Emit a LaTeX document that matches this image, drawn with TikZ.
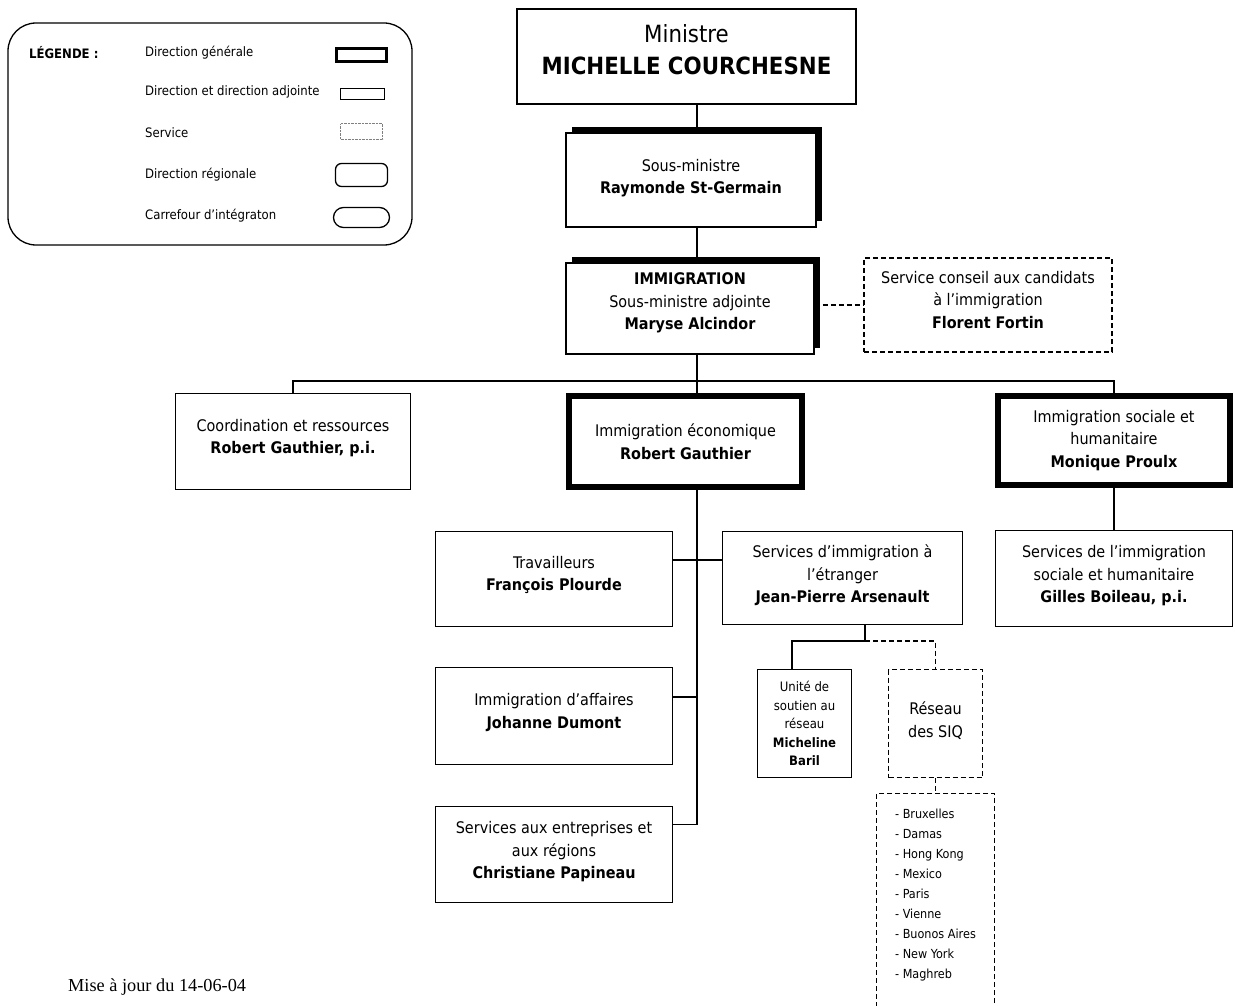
\documentclass[tikz,border=0pt]{standalone}
\usepackage{fontspec}
\setmainfont{DejaVu Sans Condensed}
\newfontfamily\timesfont{Liberation Serif}
\usetikzlibrary{shadows}

\tikzset{
  orgbox/.style={draw, fill=white, line width=1.3pt, align=center, inner sep=0pt, font=\fontsize{16}{22.5}\selectfont},
  dgbox/.style={orgbox, line width=6pt},
  servbox/.style={orgbox, dash pattern=on 5pt off 3pt},
  shadowbox/.style={orgbox, line width=1.8pt, drop shadow={shadow xshift=6pt, shadow yshift=6pt, fill=black, opacity=1}},
  legtext/.style={anchor=west, inner sep=0pt, font=\fontsize{13}{15}\selectfont},
  link/.style={line width=1.3pt},
  dlink/.style={line width=1.3pt, dash pattern=on 5pt off 3pt},
}

\begin{document}
\begin{tikzpicture}[x=1pt,y=-1pt]
	\useasboundingbox (0,0) rectangle (1235,1006);
	% legende
	\draw[line width=1.3pt, rounded corners=28pt] (8,23) rectangle (412,245);
	\node[legtext, font=\fontsize{13}{15}\selectfont\bfseries] (legtitle) at (29,53) {LÉGENDE :};
	\node[legtext] (leggen) at (145,53) {Direction générale};
	\node[legtext] (legdir) at (145,92) {Direction et direction adjointe};
	\node[legtext] (legserv) at (145,133) {Service};
	\node[legtext] (legreg) at (145,175) {Direction régionale};
	\node[legtext] (legcarr) at (145,216) {Carrefour d’intégraton};
	\node[draw, line width=3pt, minimum width=50pt, minimum height=13pt, inner sep=0pt] (symgen) at (361.5,55) {};
	\node[draw, line width=1.3pt, minimum width=44pt, minimum height=11pt, inner sep=0pt] (symdir) at (362.5,94) {};
	\node[draw, gray, densely dotted, minimum width=42pt, minimum height=16pt, inner sep=0pt] (symserv) at (361.5,131.5) {};
	\node[draw, line width=1.3pt, rounded corners=6pt, minimum width=52pt, minimum height=23pt, inner sep=0pt] (symreg) at (361.5,175) {};
	\node[draw, line width=1.3pt, rounded corners=10pt, minimum width=56pt, minimum height=20pt, inner sep=0pt] (symcarr) at (361.5,217.5) {};

	\node[orgbox, line width=1.8pt, minimum width=339pt, minimum height=95pt, font=\fontsize{23.7}{32}\selectfont] (ministre) at (686.5,56.5) {Ministre\\\textbf{MICHELLE COURCHESNE}\\[-18pt]};
	\node[shadowbox, minimum width=250pt, minimum height=94pt] (sm) at (691,180) {Sous-ministre\\\textbf{Raymonde St-Germain}\\[-15.5pt]};
	\node[shadowbox, minimum width=248pt, minimum height=91pt] (imm) at (690,308.5) {\textbf{IMMIGRATION}\\Sous-ministre adjointe\\\textbf{Maryse Alcindor}\\[-8pt]};
	\node[servbox, minimum width=248pt, minimum height=94pt] (scc) at (988,305) {Service conseil aux candidats\\à l’immigration\\\textbf{Florent Fortin}\\[-12pt]};

	\node[orgbox, minimum width=235pt, minimum height=96pt] (coord) at (293,441.5) {Coordination et ressources\\\textbf{Robert Gauthier, p.i.}\\[-12pt]};
	\node[dgbox, minimum width=233pt, minimum height=91pt] (eco) at (685.5,441.5) {Immigration économique\\\textbf{Robert Gauthier}};
	\node[dgbox, minimum width=232pt, minimum height=89pt] (soc) at (1114,440.5) {Immigration sociale et\\humanitaire\\\textbf{Monique Proulx}};
	\node[orgbox, minimum width=237pt, minimum height=96pt] (svsoc) at (1114,578.5) {Services de l’immigration\\sociale et humanitaire\\\textbf{Gilles Boileau, p.i.}\\[-14pt]};

	\node[orgbox, minimum width=237pt, minimum height=95pt] (trav) at (554,579) {Travailleurs\\\textbf{François Plourde}\\[-11pt]};
	\node[orgbox, minimum width=240pt, minimum height=93pt] (etr) at (842.5,578) {Services d’immigration à\\l’étranger\\\textbf{Jean-Pierre Arsenault}\\[-14pt]};
	\node[orgbox, minimum width=237pt, minimum height=97pt] (aff) at (554,716) {Immigration d’affaires\\\textbf{Johanne Dumont}\\[-12pt]};
	\node[orgbox, minimum width=237pt, minimum height=96pt] (ent) at (554,854.5) {Services aux entreprises et\\aux régions\\\textbf{Christiane Papineau}\\[-14pt]};

	\node[orgbox, line width=1.8pt, minimum width=94pt, minimum height=108pt, font=\fontsize{13}{18.5}\selectfont] (unite) at (804.5,723.5) {Unité de\\soutien au\\réseau\\\textbf{Micheline}\\\textbf{Baril}};
	\node[servbox, minimum width=94pt, minimum height=108pt] (reseau) at (935.5,723.5) {Réseau\\des SIQ\\[-15pt]};
	\node[servbox, anchor=north, align=left, minimum width=118pt, inner ysep=15pt, font=\fontsize{12.5}{20}\selectfont] (siq) at (935.5,793) {- Bruxelles\\- Damas\\- Hong Kong\\- Mexico\\- Paris\\- Vienne\\- Buonos Aires\\- New York\\- Maghreb\\[40pt]~};

	\node[anchor=west, inner sep=0pt, font=\timesfont\fontsize{18.3}{20}\selectfont] (maj) at (68,987) {Mise à jour du 14-06-04};

	\coordinate (trunk) at (697,381);
	\coordinate (split) at (865,641);
	\draw[link] (ministre.south -| trunk) -- (sm.north -| trunk);
	\draw[link] (sm.south -| trunk) -- (imm.north -| trunk);
	\draw[link] (imm.south -| trunk) -- (eco.north -| trunk);
	\draw[link] (coord.north) |- (trunk) -| (soc.north);
	\draw[dlink] (imm.east |- scc.west) -- (scc.west);
	\draw[link] (soc.south) -- (svsoc.north);
	\draw[link] (eco.south -| trunk) |- ([yshift=30pt]ent.east);
	\draw[link] ([yshift=19pt]trav.east) -- ([yshift=18pt]etr.west);
	\draw[link] ([yshift=19pt]aff.east) -- ([yshift=19pt]aff.east -| trunk);
	\draw[link] (etr.south -| split) -- (split) -| ([xshift=-12.5pt]unite.north);
	\draw[dlink] (split) -| (reseau.north);
	\draw[dlink] (reseau.south) -- (siq.north);
\end{tikzpicture}
\end{document}
